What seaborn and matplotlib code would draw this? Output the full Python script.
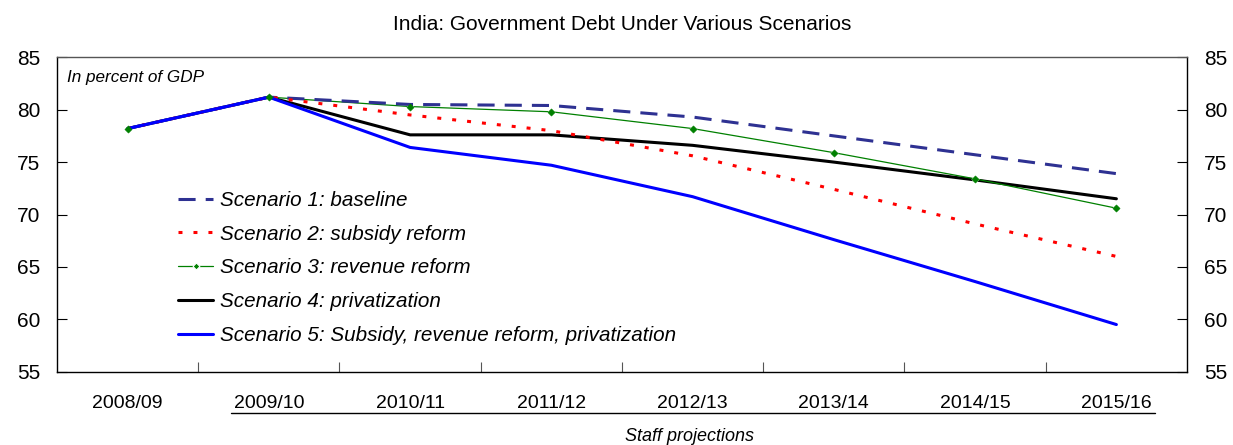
import numpy as np
import pandas as pd
import matplotlib.pyplot as plt
from matplotlib.lines import Line2D
import seaborn as sns

# Data
years = ["2008/09", "2009/10", "2010/11", "2011/12", "2012/13", "2013/14", "2014/15", "2015/16"]
baseline = [78.2, 81.2, 80.5, 80.4, 79.3, 77.5, 75.7, 73.9]
subsidy = [78.2, 81.2, 79.5, 78.0, 75.6, 72.4, 69.1, 66.0]
revenue = [78.2, 81.2, 80.3, 79.8, 78.2, 75.9, 73.4, 70.6]
privatization = [78.2, 81.2, 77.6, 77.6, 76.6, 75.0, 73.3, 71.5]
combined = [78.2, 81.2, 76.4, 74.7, 71.7, 67.6, 63.6, 59.5]

labels = [
    "Scenario 1: baseline",
    "Scenario 2: subsidy reform",
    "Scenario 3: revenue reform",
    "Scenario 4: privatization",
    "Scenario 5: Subsidy, revenue reform, privatization",
]
series = [baseline, subsidy, revenue, privatization, combined]

rows = []
for lab, vals in zip(labels, series):
    for i, (yr, v) in enumerate(zip(years, vals)):
        rows.append({"scenario": lab, "year": yr, "pos": i, "value": v})
df = pd.DataFrame(rows)

sns.set_theme(style="white")
plt.rcParams["font.family"] = ["Liberation Sans", "DejaVu Sans"]
plt.rcParams["text.color"] = "black"

fig = plt.figure(figsize=(12.33, 4.45), dpi=100)
ax = fig.add_axes([57 / 1233, 1 - 371.7 / 445, 1130 / 1233, 314.4 / 445])

styles = {
    labels[0]: dict(color="#2E3192", lw=2.2, linestyle=(0, (5.6, 3.3)), zorder=4),
    labels[1]: dict(color="#FF0000", lw=2.2, linestyle=(0, (1.3, 3.6)), zorder=4),
    labels[2]: dict(color="#008000", lw=0.9, marker="D", markersize=3.5, zorder=3),
    labels[3]: dict(color="black", lw=2.2, zorder=2),
    labels[4]: dict(color="#0000FF", lw=2.2, zorder=5),
}

for lab in labels:
    sub = df[df["scenario"] == lab]
    sns.lineplot(data=sub, x="pos", y="value", ax=ax, label=lab, **styles[lab])

# green markers on top of the other lines
sub = df[df["scenario"] == labels[2]]
sns.scatterplot(data=sub, x="pos", y="value", ax=ax, color="#008000", marker="D",
                s=14, edgecolor="#008000", zorder=6, legend=False)

ax.set_xlim(-0.5, len(years) - 0.5)
ax.set_ylim(55, 85)
ax.set_yticks(np.arange(55, 86, 5))
ax.set_xticks(np.arange(len(years)))
ax.set_xticklabels(years)
ax.set_xticks(np.arange(0.5, len(years) - 1, 1), minor=True)
ax.set_xlabel("")
ax.set_ylabel("")

for s in ax.spines.values():
    s.set_visible(True)
    s.set_color("black")
    s.set_linewidth(1.0)
ax.spines["top"].set_color("#555555")

ax.tick_params(axis="x", which="major", length=0, pad=17, labelsize=14, colors="black")
ax.tick_params(axis="x", which="minor", direction="in", length=7, width=0.8, bottom=True, color="#555555")
ax.tick_params(axis="y", which="major", direction="in", length=7, width=0.8, left=True, right=True,
               labelleft=True, labelright=True, labelsize=15, pad=12, colors="black")

ax.text(0.009, 0.96, "In percent of GDP", transform=ax.transAxes, fontsize=12.3,
        style="italic", va="top", ha="left")

leg = ax.legend(loc="upper left", bbox_to_anchor=(178 / 1233, 1 - 191 / 445),
                bbox_transform=fig.transFigure, frameon=False,
                prop={"style": "italic", "size": 14.9}, handlelength=1.7,
                handletextpad=0.35, labelspacing=0.71, borderpad=0, borderaxespad=0)

# staff projections bracket
trans = ax.get_xaxis_transform()
ax.add_line(Line2D([0.73, 7.27], [-0.131, -0.131], transform=trans, color="black",
                   lw=1.0, clip_on=False))
ax.text(3.98, -0.205, "Staff projections", transform=trans, ha="center", va="center",
        fontsize=13, style="italic")

fig.text(0.505, 0.944, "India: Government Debt Under Various Scenarios", ha="center",
         va="center", fontsize=15)

fig.savefig("out.png", dpi=100)
